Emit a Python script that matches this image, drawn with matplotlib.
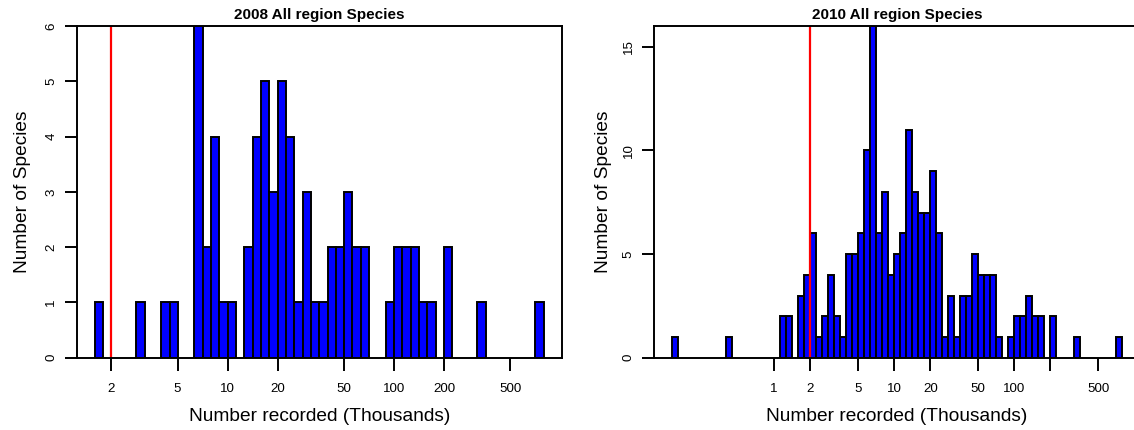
import numpy as np
import matplotlib
matplotlib.use("Agg")
import matplotlib.pyplot as plt
from matplotlib.ticker import FixedLocator, FixedFormatter, NullLocator

plt.rcParams['font.family'] = ['Liberation Sans', 'DejaVu Sans']

# Histogram of log10(number recorded, thousands); bins are 0.05 wide in log10
BIN_WIDTH = 0.05

# 2008: counts per bin, first bin starts at log10 = 0.20
start_2008 = 0.20
counts_2008 = [1, 0, 0, 0, 0, 1, 0, 0, 1, 1, 0, 0, 6, 2, 4, 1, 1, 0, 2, 4,
               5, 3, 5, 4, 1, 3, 1, 1, 2, 2, 3, 2, 2, 0, 0, 1, 2, 2, 2, 1,
               1, 0, 2, 0, 0, 0, 1, 0, 0, 0, 0, 0, 0, 1]

# 2010: counts per bin, first bin starts at log10 = -0.85
start_2010 = -0.85
counts_2010 = [1, 0, 0, 0, 0, 0, 0, 0, 0, 1, 0, 0, 0, 0, 0, 0, 0, 0, 2, 2,
               0, 3, 4, 6, 1, 2, 4, 2, 1, 5, 5, 6, 10, 16, 6, 8, 4, 5, 6, 11,
               8, 7, 7, 9, 6, 1, 3, 1, 3, 3, 5, 4, 4, 4, 1, 0, 1, 2, 2, 3,
               2, 2, 0, 2, 0, 0, 0, 1, 0, 0, 0, 0, 0, 0, 1]

titles = ["2008 All region Species", "2010 All region Species"]
x_title = "Number recorded (Thousands)"
y_title = "Number of Species"
threshold = 2  # thousands

ticks_2008 = [2, 5, 10, 20, 50, 100, 200, 500]
labels_2008 = ["2", "5", "10", "20", "50", "100", "200", "500"]
ticks_2010 = [1, 2, 5, 10, 20, 50, 100, 200, 500]
labels_2010 = ["1", "2", "5", "10", "20", "50", "100", "", "500"]
yticks_2008 = [0, 1, 2, 3, 4, 5, 6]
yticks_2010 = [0, 5, 10, 15]
ylim_2008 = 6
ylim_2010 = 16

W, H = 1134, 430
fig = plt.figure(figsize=(W / 100, H / 100), dpi=100)

def px_axes(x0, x1, y_top, y_bot):
    return fig.add_axes([x0 / W, 1 - y_bot / H, (x1 - x0) / W, (y_bot - y_top) / H])

LW = 1.4
panels = [
    (px_axes(76.7, 561.7, 26, 357.7), start_2008, counts_2008, ticks_2008, labels_2008,
     yticks_2008, ylim_2008, titles[0], 23.0),
    (px_axes(654.0, 1140.3, 26, 357.7), start_2010, counts_2010, ticks_2010, labels_2010,
     yticks_2010, ylim_2010, titles[1], 603.0),
]

for ax, start, counts, xt, xl, yt, ytop, title, ylab_x in panels:
    counts = np.asarray(counts)
    lo = start + BIN_WIDTH * np.arange(len(counts))
    left = 10 ** lo
    right = 10 ** (lo + BIN_WIDTH)
    mask = counts > 0
    ax.bar(left[mask], counts[mask], width=(right - left)[mask], align='edge',
           color='#0000FF', edgecolor='black', linewidth=LW, zorder=2)

    ax.set_xscale('log')
    # axis range: bin range extended by 4% on each side
    span = BIN_WIDTH * len(counts)
    ax.set_xlim(10 ** (start - 0.04 * span), 10 ** (start + span + 0.04 * span))
    ax.set_ylim(0, ytop)

    ax.axvline(threshold, color='red', linewidth=1.6, zorder=3)

    ax.xaxis.set_major_locator(FixedLocator(xt))
    ax.xaxis.set_major_formatter(FixedFormatter(xl))
    ax.xaxis.set_minor_locator(NullLocator())
    ax.set_yticks(yt)
    ax.set_yticklabels([str(v) for v in yt])

    for s in ax.spines.values():
        s.set_linewidth(LW)
        s.set_zorder(4)
    ax.tick_params(axis='both', direction='out', length=9, width=LW, colors='black')
    ax.tick_params(axis='x', pad=9.5, labelsize=9.6)
    ax.tick_params(axis='y', pad=5, labelsize=9.6, labelrotation=90)
    for lab in ax.get_yticklabels():
        lab.set_va('center')

    ax.set_title(title, fontsize=11, fontweight='bold', pad=5)
    ax.text(0.5, -(416.7 - 357.7) / 331.7, x_title, transform=ax.transAxes,
            ha='center', va='center', fontsize=13.8)
    x0 = ax.get_position().x0 * W
    wpx = ax.get_position().width * W
    ax.text((ylab_x - x0) / wpx, 0.5, y_title, transform=ax.transAxes,
            rotation=90, ha='center', va='center', fontsize=13.8)

fig.savefig("out.png", dpi=100, facecolor='white')
